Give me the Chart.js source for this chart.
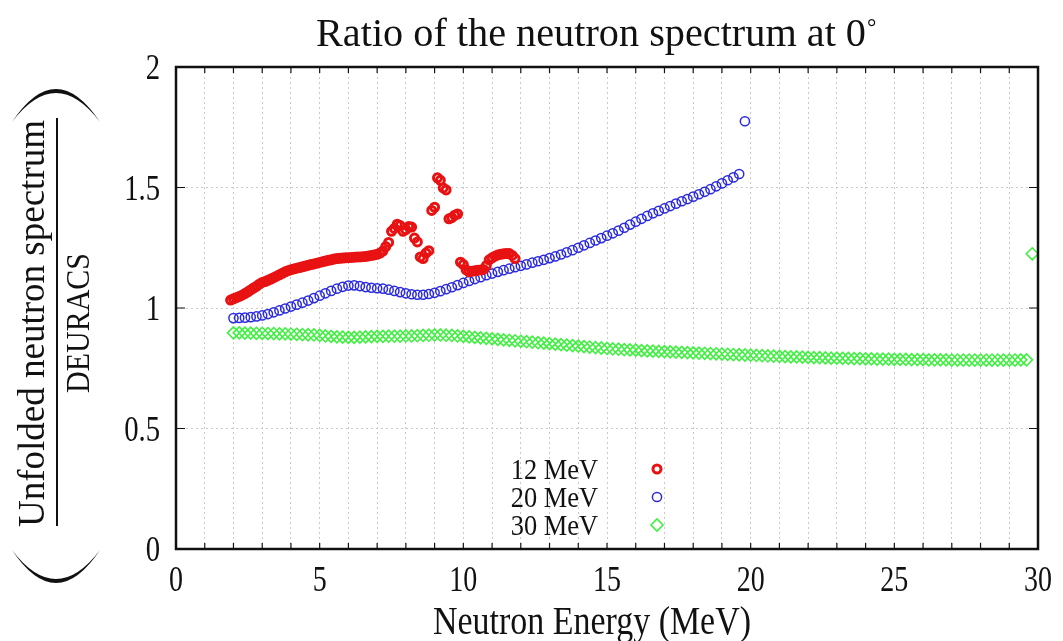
<!DOCTYPE html>
<html>
<head>
<meta charset="utf-8">
<title>Ratio of the neutron spectrum at 0°</title>
<script src="https://cdn.jsdelivr.net/npm/chart.js@4.4.1/dist/chart.umd.min.js"></script>
<style>
  html, body { margin: 0; padding: 0; background: #fff; }
  #wrap { width: 1063px; height: 641px; }
</style>
</head>
<body>
<div id="wrap"><canvas id="ratioChart" width="1063" height="641"></canvas></div>
<script>
"use strict";

// Ratio unfolded spectrum / DEURACS, three beam energies
const seriesNames = ['12 MeV', '20 MeV', '30 MeV'];

const energy12 = [
    1.9, 2.0, 2.1, 2.2, 2.3, 2.4, 2.5, 2.6, 2.7, 2.8,
    2.9, 3.0, 3.1, 3.2, 3.3, 3.4, 3.5, 3.6, 3.7, 3.8,
    3.9, 4.0, 4.1, 4.2, 4.3, 4.4, 4.5, 4.6, 4.7, 4.8,
    4.9, 5.0, 5.1, 5.2, 5.3, 5.4, 5.5, 5.6, 5.7, 5.8,
    5.9, 6.0, 6.1, 6.2, 6.3, 6.4, 6.5, 6.6, 6.7, 6.8,
    6.9, 7.0, 7.1, 7.2, 7.3, 7.4, 7.5, 7.6, 7.7, 7.8,
    7.9, 8.0, 8.1, 8.2, 8.3, 8.4, 8.5, 8.6, 8.7, 8.8,
    8.9, 9.0, 9.1, 9.2, 9.3, 9.4, 9.5, 9.6, 9.7, 9.8,
    9.9, 10.0, 10.1, 10.2, 10.3, 10.4, 10.5, 10.6, 10.7, 10.8,
    10.9, 11.0, 11.1, 11.2, 11.3, 11.4, 11.5, 11.6, 11.7, 11.8
];
const ratio12 = [
    1.033, 1.038, 1.043, 1.048, 1.053, 1.060, 1.067, 1.075, 1.083, 1.090,
    1.099, 1.106, 1.110, 1.115, 1.120, 1.126, 1.132, 1.138, 1.144, 1.150,
    1.155, 1.159, 1.162, 1.165, 1.168, 1.171, 1.174, 1.177, 1.180, 1.183,
    1.186, 1.189, 1.192, 1.195, 1.198, 1.200, 1.203, 1.205, 1.206, 1.207,
    1.208, 1.209, 1.210, 1.211, 1.212, 1.212, 1.213, 1.214, 1.216, 1.218,
    1.220, 1.223, 1.228, 1.236, 1.255, 1.272, 1.318, 1.330, 1.348, 1.342,
    1.318, 1.325, 1.338, 1.336, 1.290, 1.274, 1.212, 1.205, 1.228, 1.238,
    1.405, 1.418, 1.540, 1.530, 1.498, 1.490, 1.370, 1.375, 1.385, 1.390,
    1.190, 1.180, 1.158, 1.150, 1.152, 1.155, 1.157, 1.158, 1.160, 1.176,
    1.200, 1.208, 1.215, 1.220, 1.223, 1.225, 1.226, 1.226, 1.218, 1.205
];

const energy20 = [
    2.0, 2.2, 2.4, 2.6, 2.8, 3.0, 3.2, 3.4, 3.6, 3.8,
    4.0, 4.2, 4.4, 4.6, 4.8, 5.0, 5.2, 5.4, 5.6, 5.8,
    6.0, 6.2, 6.4, 6.6, 6.8, 7.0, 7.2, 7.4, 7.6, 7.8,
    8.0, 8.2, 8.4, 8.6, 8.8, 9.0, 9.2, 9.4, 9.6, 9.8,
    10.0, 10.2, 10.4, 10.6, 10.8, 11.0, 11.2, 11.4, 11.6, 11.8,
    12.0, 12.2, 12.4, 12.6, 12.8, 13.0, 13.2, 13.4, 13.6, 13.8,
    14.0, 14.2, 14.4, 14.6, 14.8, 15.0, 15.2, 15.4, 15.6, 15.8,
    16.0, 16.2, 16.4, 16.6, 16.8, 17.0, 17.2, 17.4, 17.6, 17.8,
    18.0, 18.2, 18.4, 18.6, 18.8, 19.0, 19.2, 19.4, 19.6, 19.8
];
const ratio20 = [
    0.958, 0.959, 0.960, 0.962, 0.965, 0.969, 0.975, 0.982, 0.990, 0.998,
    1.006, 1.014, 1.022, 1.031, 1.041, 1.051, 1.061, 1.071, 1.080, 1.088,
    1.093, 1.094, 1.091, 1.087, 1.084, 1.082, 1.080, 1.076, 1.071, 1.066,
    1.061, 1.057, 1.055, 1.055, 1.058, 1.063, 1.070, 1.078, 1.086, 1.095,
    1.104, 1.112, 1.120, 1.128, 1.136, 1.143, 1.150, 1.157, 1.163, 1.169,
    1.175, 1.181, 1.188, 1.194, 1.200, 1.207, 1.214, 1.222, 1.231, 1.240,
    1.250, 1.260, 1.270, 1.280, 1.290, 1.300, 1.310, 1.321, 1.333, 1.346,
    1.358, 1.370, 1.382, 1.393, 1.403, 1.413, 1.423, 1.433, 1.443, 1.452,
    1.462, 1.472, 1.482, 1.493, 1.505, 1.517, 1.530, 1.542, 1.556, 1.775
];

const energy30 = [
    2.0, 2.2, 2.4, 2.6, 2.8, 3.0, 3.2, 3.4, 3.6, 3.8,
    4.0, 4.2, 4.4, 4.6, 4.8, 5.0, 5.2, 5.4, 5.6, 5.8,
    6.0, 6.2, 6.4, 6.6, 6.8, 7.0, 7.2, 7.4, 7.6, 7.8,
    8.0, 8.2, 8.4, 8.6, 8.8, 9.0, 9.2, 9.4, 9.6, 9.8,
    10.0, 10.2, 10.4, 10.6, 10.8, 11.0, 11.2, 11.4, 11.6, 11.8,
    12.0, 12.2, 12.4, 12.6, 12.8, 13.0, 13.2, 13.4, 13.6, 13.8,
    14.0, 14.2, 14.4, 14.6, 14.8, 15.0, 15.2, 15.4, 15.6, 15.8,
    16.0, 16.2, 16.4, 16.6, 16.8, 17.0, 17.2, 17.4, 17.6, 17.8,
    18.0, 18.2, 18.4, 18.6, 18.8, 19.0, 19.2, 19.4, 19.6, 19.8,
    20.0, 20.2, 20.4, 20.6, 20.8, 21.0, 21.2, 21.4, 21.6, 21.8,
    22.0, 22.2, 22.4, 22.6, 22.8, 23.0, 23.2, 23.4, 23.6, 23.8,
    24.0, 24.2, 24.4, 24.6, 24.8, 25.0, 25.2, 25.4, 25.6, 25.8,
    26.0, 26.2, 26.4, 26.6, 26.8, 27.0, 27.2, 27.4, 27.6, 27.8,
    28.0, 28.2, 28.4, 28.6, 28.8, 29.0, 29.2, 29.4, 29.6, 29.8
];
const ratio30 = [
    0.897, 0.897, 0.896, 0.896, 0.895, 0.895, 0.894, 0.894, 0.893, 0.893,
    0.892, 0.891, 0.890, 0.889, 0.888, 0.886, 0.884, 0.882, 0.880, 0.879,
    0.878, 0.878, 0.879, 0.880, 0.881, 0.882, 0.882, 0.883, 0.883, 0.883,
    0.884, 0.884, 0.885, 0.886, 0.887, 0.888, 0.888, 0.887, 0.886, 0.884,
    0.882, 0.880, 0.878, 0.876, 0.874, 0.872, 0.870, 0.868, 0.866, 0.864,
    0.862, 0.860, 0.858, 0.856, 0.854, 0.852, 0.850, 0.848, 0.846, 0.844,
    0.842, 0.840, 0.838, 0.836, 0.834, 0.832, 0.830, 0.829, 0.827, 0.826,
    0.825, 0.823, 0.822, 0.821, 0.820, 0.819, 0.818, 0.817, 0.816, 0.815,
    0.814, 0.813, 0.812, 0.811, 0.810, 0.809, 0.808, 0.807, 0.806, 0.805,
    0.804, 0.803, 0.802, 0.801, 0.800, 0.799, 0.798, 0.797, 0.797, 0.796,
    0.795, 0.794, 0.794, 0.793, 0.792, 0.792, 0.791, 0.791, 0.790, 0.790,
    0.789, 0.789, 0.788, 0.788, 0.788, 0.787, 0.787, 0.787, 0.786, 0.786,
    0.786, 0.785, 0.785, 0.785, 0.785, 0.784, 0.784, 0.784, 0.784, 0.784,
    0.784, 0.784, 0.784, 0.784, 0.784, 0.784, 0.784, 0.785, 0.785, 1.225
];

// Tick labels
const xTickValues = [0, 5, 10, 15, 20, 25, 30];
const xTickLabels = ['0', '5', '10', '15', '20', '25', '30'];
const yTickValues = [0, 0.5, 1, 1.5, 2];
const yTickLabels = ['0', '0.5', '1', '1.5', '2'];

const SERIF = '"Liberation Serif", "DejaVu Serif", serif';

function toPoints(xs, ys) {
    return xs.map((x, i) => ({ x: x, y: ys[i] }));
}

// Текст с горизонтальным сжатием (шрифт в оригинале узкий)
function drawText(ctx, text, x, y, size, opts) {
    opts = opts || {};
    ctx.save();
    ctx.font = size + 'px ' + SERIF;
    ctx.fillStyle = '#111';
    ctx.textBaseline = opts.baseline || 'alphabetic';
    ctx.textAlign = 'left';
    const w = ctx.measureText(text).width;
    let sx = opts.squeeze || 1;
    if (opts.width) sx = opts.width / w;
    ctx.translate(x, y);
    if (opts.rotate) ctx.rotate(opts.rotate);
    ctx.scale(sx, 1);
    let dx = 0;
    if (opts.align === 'center') dx = -w / 2;
    if (opts.align === 'right') dx = -w;
    ctx.fillText(text, dx, 0);
    ctx.restore();
}

// Большая скобка в виде серпа
function drawParen(ctx, x0, x1, yEnd, apex, thick) {
    const mid = (x0 + x1) / 2;
    ctx.save();
    ctx.fillStyle = '#111';
    ctx.beginPath();
    ctx.moveTo(x0, yEnd);
    ctx.quadraticCurveTo(mid, 2 * apex - yEnd, x1, yEnd);
    ctx.quadraticCurveTo(mid, 2 * (apex + thick) - yEnd, x0, yEnd);
    ctx.closePath();
    ctx.fill();
    ctx.restore();
}

const framePlugin = {
    id: 'frameAndLabels',
    afterDraw(chart) {
        const ctx = chart.ctx;
        const area = chart.chartArea;
        const xs = chart.scales.x;
        const ys = chart.scales.y;

        // рамка
        ctx.save();
        ctx.strokeStyle = '#111';
        ctx.lineWidth = 2.5;
        ctx.strokeRect(area.left, area.top, area.right - area.left, area.bottom - area.top);

        // внутренние засечки
        ctx.lineWidth = 1.2;
        ctx.beginPath();
        xs.ticks.forEach(t => {
            const px = xs.getPixelForValue(t.value);
            ctx.moveTo(px, area.bottom);
            ctx.lineTo(px, area.bottom - 6);
            ctx.moveTo(px, area.top);
            ctx.lineTo(px, area.top + 6);
        });
        ys.ticks.forEach(t => {
            const py = ys.getPixelForValue(t.value);
            ctx.moveTo(area.left, py);
            ctx.lineTo(area.left + 9, py);
            ctx.moveTo(area.right, py);
            ctx.lineTo(area.right - 9, py);
        });
        ctx.stroke();
        ctx.restore();

        // подписи делений
        xTickValues.forEach((v, i) => {
            drawText(ctx, xTickLabels[i], xs.getPixelForValue(v), 591, 35, { align: 'center', squeeze: 0.8 });
        });
        yTickValues.forEach((v, i) => {
            drawText(ctx, yTickLabels[i], 160, ys.getPixelForValue(v) + 12, 35, { align: 'right', squeeze: 0.82 });
        });

        // заголовок
        drawText(ctx, 'Ratio of the neutron spectrum at 0', 316, 46, 41, { width: 550 });
        drawText(ctx, '°', 867, 35, 26, { squeeze: 0.9 });

        // подпись оси X
        drawText(ctx, 'Neutron Energy (MeV)', 433, 634, 41, { width: 318 });

        // подпись оси Y: дробь в скобках
        drawText(ctx, 'Unfolded neutron spectrum', 44, 527, 38, { width: 407, rotate: -Math.PI / 2 });
        drawText(ctx, 'DEURACS', 89, 393, 34, { width: 140, rotate: -Math.PI / 2 });
        ctx.save();
        ctx.strokeStyle = '#111';
        ctx.lineWidth = 2;
        ctx.beginPath();
        ctx.moveTo(57, 118);
        ctx.lineTo(57, 526);
        ctx.stroke();
        ctx.restore();
        drawParen(ctx, 12, 100, 122, 89, 4);
        drawParen(ctx, 12, 100, 550, 583, -4);

        // легенда
        const rowY = [469, 497, 525];
        chart.data.datasets.forEach((ds, i) => {
            drawText(ctx, ds.label, 598, rowY[i] + 10, 30, { align: 'right', squeeze: 0.88 });
            ctx.save();
            ctx.strokeStyle = ds.pointBorderColor;
            ctx.fillStyle = 'rgba(0,0,0,0)';
            ctx.lineWidth = ds.pointBorderWidth;
            Chart.helpers.drawPoint(ctx, {
                pointStyle: ds.pointStyle,
                radius: ds.pointRadius,
                borderWidth: ds.pointBorderWidth,
                rotation: 0
            }, 657, rowY[i]);
            ctx.restore();
        });
    }
};

const gridColor = '#c9c9c9';

new Chart(document.getElementById('ratioChart'), {
    type: 'scatter',
    data: {
        datasets: [
            {
                label: seriesNames[0],
                data: toPoints(energy12, ratio12),
                pointStyle: 'circle',
                pointRadius: 4,
                pointBorderWidth: 3,
                pointBorderColor: '#e81212',
                pointBackgroundColor: 'rgba(0,0,0,0)'
            },
            {
                label: seriesNames[1],
                data: toPoints(energy20, ratio20),
                pointStyle: 'circle',
                pointRadius: 4.6,
                pointBorderWidth: 1.5,
                pointBorderColor: '#2b2bdc',
                pointBackgroundColor: 'rgba(0,0,0,0)'
            },
            {
                label: seriesNames[2],
                data: toPoints(energy30, ratio30),
                pointStyle: 'rectRot',
                pointRadius: 6,
                pointBorderWidth: 1.6,
                pointBorderColor: '#40f040',
                pointBackgroundColor: 'rgba(0,0,0,0)'
            }
        ]
    },
    options: {
        responsive: false,
        animation: false,
        events: [],
        layout: {
            autoPadding: false,
            padding: { top: 67, right: 25, left: 0, bottom: 0 }
        },
        plugins: {
            legend: { display: false },
            tooltip: { enabled: false },
            title: { display: false }
        },
        scales: {
            x: {
                type: 'linear',
                min: 0,
                max: 30,
                ticks: { stepSize: 1, display: false },
                grid: { color: gridColor, lineWidth: 1, drawTicks: false },
                border: { display: false, dash: [2, 3] },
                afterFit(scale) { scale.height = 92; }
            },
            y: {
                type: 'linear',
                min: 0,
                max: 2,
                ticks: { stepSize: 0.5, display: false },
                grid: { color: gridColor, lineWidth: 1, drawTicks: false },
                border: { display: false, dash: [2, 3] },
                afterFit(scale) { scale.width = 176; }
            }
        }
    },
    plugins: [framePlugin]
});
</script>
</body>
</html>
